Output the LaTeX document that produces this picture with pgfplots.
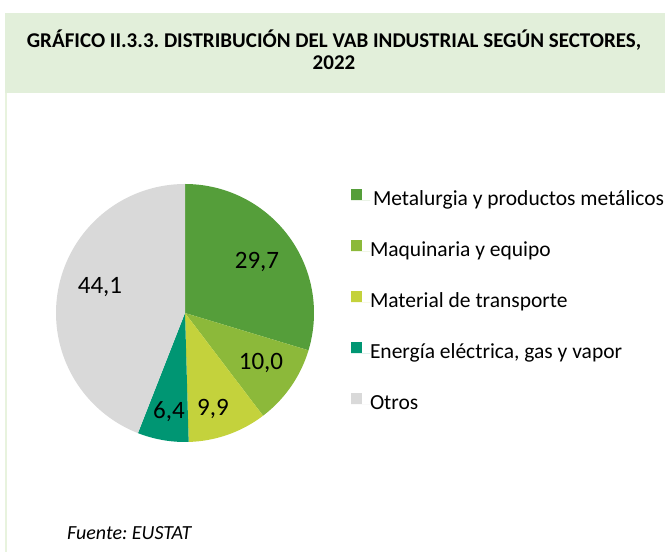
\documentclass[border=0pt]{standalone}
\usepackage{pgfplots}
\usepackage{pgfplotstable}
\pgfplotsset{compat=1.18}
\usepackage{fontspec}
\setmainfont{Carlito}
\frenchspacing
\definecolor{cA}{HTML}{559E3A}
\definecolor{cB}{HTML}{8CB93A}
\definecolor{cC}{HTML}{C4D23C}
\definecolor{cD}{HTML}{009673}
\definecolor{cE}{HTML}{D9D9D9}
\definecolor{titlebg}{HTML}{E2EFDA}
\definecolor{edge}{HTML}{E8F3DE}

\pgfplotstableread{
idx value
0 29.7
1 10.0
2 9.9
3 6.4
4 44.1
}\piedata
\pgfplotstablegetelem{0}{value}\of\piedata \let\va\pgfplotsretval
\pgfplotstablegetelem{1}{value}\of\piedata \let\vb\pgfplotsretval
\pgfplotstablegetelem{2}{value}\of\piedata \let\vc\pgfplotsretval
\pgfplotstablegetelem{3}{value}\of\piedata \let\vd\pgfplotsretval
\pgfplotstablegetelem{4}{value}\of\piedata \let\ve\pgfplotsretval
\pgfmathsetmacro\tot{\va+\vb+\vc+\vd+\ve}
\pgfmathsetmacro\aA{90}
\pgfmathsetmacro\aB{\aA-\va*360/\tot}
\pgfmathsetmacro\aC{\aB-\vb*360/\tot}
\pgfmathsetmacro\aD{\aC-\vc*360/\tot}
\pgfmathsetmacro\aE{\aD-\vd*360/\tot}
\pgfmathsetmacro\aF{\aE-\ve*360/\tot}
\def\cx{185}\def\cy{239}\def\R{129}

\begin{document}
\begin{tikzpicture}
\begin{axis}[
  scale only axis, width=665bp, height=552bp,
  xmin=0, xmax=665, ymin=0, ymax=552,
  hide axis, clip=false,
  area legend,
  legend cell align=left,
  legend style={at={(axis cs:351,363)}, anchor=north west, draw=none, fill=none,
    inner sep=0pt, outer sep=0pt, row sep=30.5bp, column sep=0pt,
    font=\fontsize{21.5bp}{25bp}\selectfont,
    nodes={inner sep=0pt, text height=14bp, text depth=4bp}},
  legend image code/.code={\fill[#1] (0bp,0.5bp) rectangle (11bp,11.5bp); \path (0bp,0bp) -- (19bp,0bp);},
]
\path (axis cs:0,0) rectangle (axis cs:665,552);
\fill[titlebg] (axis cs:5,459) rectangle (axis cs:665,539);
\draw[edge, line width=2bp] (axis cs:6,459) -- (axis cs:6,0);
\node[font=\bfseries\fontsize{21bp}{24bp}\selectfont] at (axis cs:334,512) {GRÁFICO II.3.3. DISTRIBUCIÓN DEL VAB INDUSTRIAL SEGÚN SECTORES,};
\node[font=\bfseries\fontsize{21bp}{24bp}\selectfont] at (axis cs:334,489) {2022};

\addplot[fill=cA, draw=none, domain=\aB:\aA, samples=80, variable=\t] ({\cx+\R*cos(\t)},{\cy+\R*sin(\t)}) -- (axis cs:\cx,\cy) -- cycle;
\addlegendentry{\hspace{3bp}Metalurgia y productos metálicos}
\addplot[fill=cB, draw=none, domain=\aC:\aB, samples=40, variable=\t] ({\cx+\R*cos(\t)},{\cy+\R*sin(\t)}) -- (axis cs:\cx,\cy) -- cycle;
\addlegendentry{Maquinaria y equipo}
\addplot[fill=cC, draw=none, domain=\aD:\aC, samples=40, variable=\t] ({\cx+\R*cos(\t)},{\cy+\R*sin(\t)}) -- (axis cs:\cx,\cy) -- cycle;
\addlegendentry{Material de transporte}
\addplot[fill=cD, draw=none, domain=\aE:\aD, samples=30, variable=\t] ({\cx+\R*cos(\t)},{\cy+\R*sin(\t)}) -- (axis cs:\cx,\cy) -- cycle;
\addlegendentry{Energía eléctrica, gas y vapor}
\addplot[fill=cE, draw=none, domain=\aF:\aE, samples=100, variable=\t] ({\cx+\R*cos(\t)},{\cy+\R*sin(\t)}) -- (axis cs:\cx,\cy) -- cycle;
\addlegendentry{Otros}

\begin{scope}[every node/.style={font=\fontsize{25bp}{29bp}\selectfont, inner sep=0pt}]
\node at (axis cs:257,290) {29,7};
\node at (axis cs:261,189) {10,0};
\node at (axis cs:213,143) {9,9};
\node at (axis cs:169,140) {6,4};
\node at (axis cs:100,265) {44,1};
\end{scope}
\node[font=\itshape\fontsize{20bp}{24bp}\selectfont, anchor=west, inner sep=0pt] at (axis cs:67,19) {Fuente: EUSTAT};
\end{axis}
\end{tikzpicture}
\end{document}
